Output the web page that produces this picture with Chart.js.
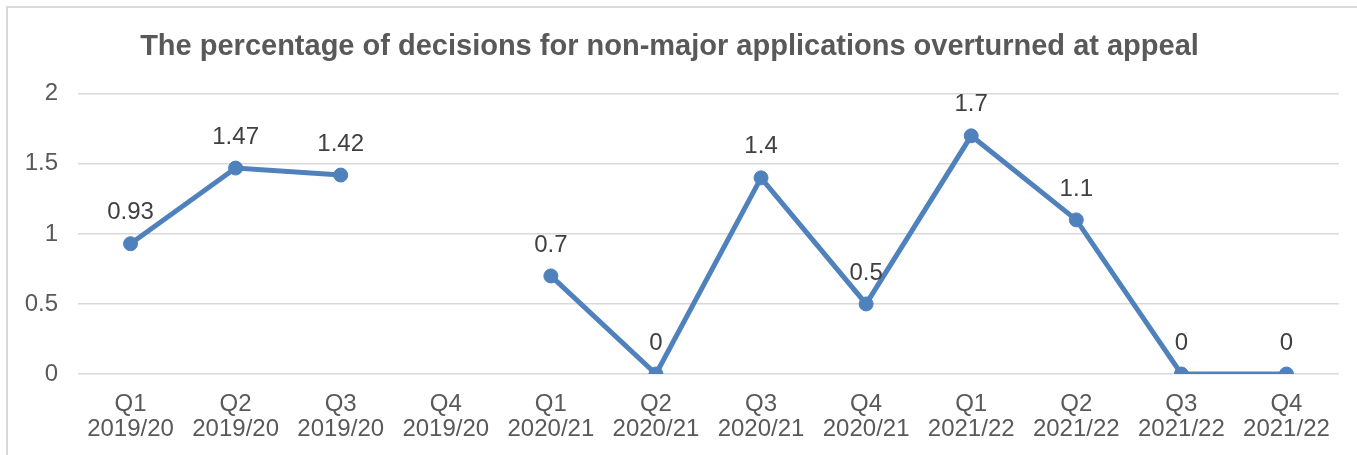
<!DOCTYPE html>
<html lang="en">
<head>
  <meta charset="UTF-8">
  <title>Non-major applications overturned at appeal</title>
  <script src="https://cdn.jsdelivr.net/npm/chart.js"></script>
  <style>
    html, body { margin: 0; padding: 0; background: #fff; }
    body { width: 1357px; height: 455px; overflow: hidden; position: relative; font-family: 'Liberation Sans', Arial, sans-serif; }
    .frame { position: absolute; left: 6px; top: 6px; right: 0; bottom: 0; border-left: 2px solid #d9d9d9; border-top: 2px solid #d9d9d9; }
    #wrap { position: absolute; left: 0; top: 0; width: 1357px; height: 455px; }
  </style>
</head>
<body>
  <div class="frame"></div>
  <div id="wrap"><canvas id="appealChart"></canvas></div>

  <script>
    const quarters = ['Q1', 'Q2', 'Q3', 'Q4', 'Q1', 'Q2', 'Q3', 'Q4', 'Q1', 'Q2', 'Q3', 'Q4'];
    const years = ['2019/20', '2019/20', '2019/20', '2019/20', '2020/21', '2020/21', '2020/21', '2020/21', '2021/22', '2021/22', '2021/22', '2021/22'];
    const overturned = [0.93, 1.47, 1.42, null, 0.7, 0, 1.4, 0.5, 1.7, 1.1, 0, 0];
    const yTicks = [0, 0.5, 1, 1.5, 2];

    const labels = quarters.map((q, i) => [q, years[i]]);
    const FONT = '"Liberation Sans", Arial, sans-serif';

    // draws the value above each point
    const valueLabels = {
      id: 'valueLabels',
      afterDatasetsDraw(chart) {
        const ctx = chart.ctx;
        const meta = chart.getDatasetMeta(0);
        ctx.save();
        ctx.font = '24px ' + FONT;
        ctx.fillStyle = '#404040';
        ctx.textAlign = 'center';
        ctx.textBaseline = 'middle';
        meta.data.forEach((pt, i) => {
          const v = overturned[i];
          if (v === null) return;
          ctx.fillText(String(v), pt.x, pt.y - 31);
        });
        ctx.restore();
      }
    };

    new Chart(document.getElementById('appealChart'), {
      type: 'line',
      data: {
        labels: labels,
        datasets: [{
          data: overturned,
          borderColor: '#4f81bd',
          backgroundColor: '#4f81bd',
          borderWidth: 5,
          pointRadius: 7,
          pointHoverRadius: 7,
          pointBorderWidth: 1,
          spanGaps: false,
          tension: 0
        }]
      },
      options: {
        responsive: true,
        maintainAspectRatio: false,
        animation: false,
        layout: { padding: { left: 0, right: 18, top: 0, bottom: 14 } },
        plugins: {
          legend: { display: false },
          tooltip: { enabled: false },
          title: {
            display: true,
            text: 'The percentage of decisions for non-major applications overturned at appeal',
            color: '#595959',
            font: { family: FONT, size: 29, weight: 'bold' },
            padding: { top: 30, bottom: 29 }
          }
        },
        scales: {
          x: {
            offset: true,
            afterFit(scale) { scale.height = 67; },
            grid: { display: false },
            border: { display: false },
            ticks: {
              color: '#595959',
              font: { family: FONT, size: 24, lineHeight: 1.04 },
              padding: 10,
              maxRotation: 0,
              autoSkip: false
            }
          },
          y: {
            min: 0,
            max: 2,
            afterFit(scale) { scale.width = 78; },
            afterBuildTicks(scale) { scale.ticks = yTicks.map(v => ({ value: v })); },
            grid: { color: '#d9d9d9', lineWidth: 1.5, drawTicks: false },
            border: { display: false },
            ticks: {
              color: '#595959',
              font: { family: FONT, size: 24 },
              padding: 20,
              callback: v => String(v)
            }
          }
        }
      },
      plugins: [valueLabels]
    });
  </script>
</body>
</html>
